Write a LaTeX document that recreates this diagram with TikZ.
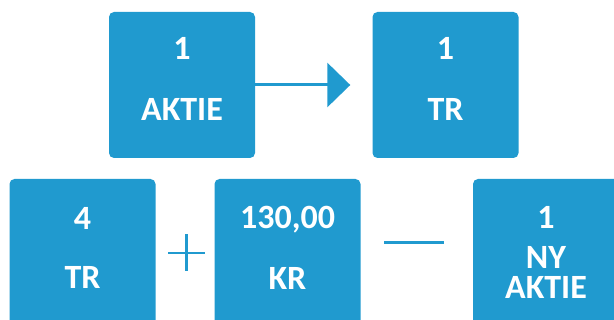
\documentclass[tikz,border=0pt]{standalone}
\usepackage{fontspec}
\setmainfont{Carlito}
\usetikzlibrary{arrows.meta}
\definecolor{aktieblue}{RGB}{32,154,207}

\begin{document}
\begin{tikzpicture}[x=1pt,y=-1pt, >=Stealth,
    box/.style={fill=aktieblue, rounded corners=5pt, minimum width=146pt,
      minimum height=146pt, inner sep=0pt, align=center, text=white,
      font=\fontsize{34}{40}\bfseries\selectfont},
    sign/.style={draw=aktieblue, line width=2.5pt}]
  \useasboundingbox (0,0) rectangle (614,320);
  \clip (0,0) rectangle (614,320);
  % top row: one share gives one right
  \node[box, text depth=13pt] (aktie) at (182,85) {1\\[21pt]AKTIE};
  \node[box, text depth=13pt] (tr) at (445.5,85) {1\\[21pt]TR};
  \draw[aktieblue, line width=3pt, -{Triangle[length=23pt,width=44pt]},
        shorten >=22pt] (aktie.east) -- (tr.west);
  % bottom row: rights plus cash give a new share
  \node[box, text depth=9pt] (fire) at (82.5,252) {4\\[19pt]TR};
  \node[box, text depth=9pt] (kr) at (287.5,252) {130,00\\[21pt]KR};
  \node[box] (ny) at (546,252) {1\\[0pt]NY\\[-10pt]AKTIE};
  % plus and minus signs
  \coordinate (plus) at (186.5,253);
  \coordinate (minus) at (414,243);
  \draw[sign] (plus) ++(-18.5,0) -- ++(37,0);
  \draw[sign] (plus) ++(0,-18.5) -- ++(0,37);
  \draw[sign, line width=3pt] (minus) ++(-30,0) -- ++(60,0);
\end{tikzpicture}
\end{document}
